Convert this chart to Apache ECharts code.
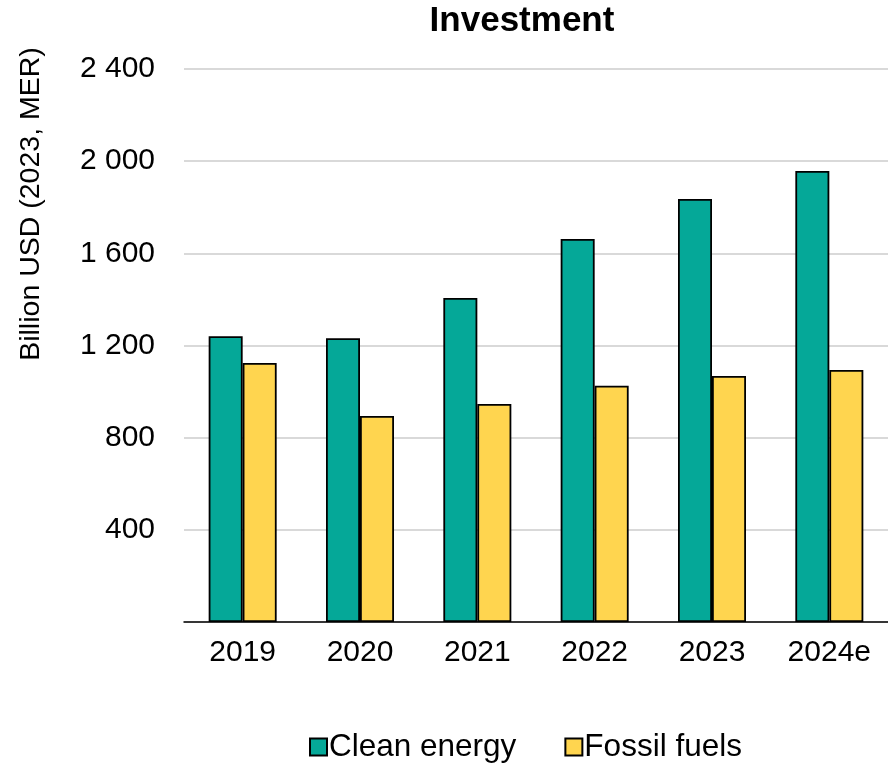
<!DOCTYPE html>
<html><head><meta charset="utf-8">
<script src="https://cdn.jsdelivr.net/npm/echarts@6/dist/echarts.min.js"></script>
<style>html,body{margin:0;padding:0;background:#fff}#c{width:888px;height:763px}</style>
</head><body><div id="c"></div>
<script>
const categories = ['2019','2020','2021','2022','2023','2024e'];
const cleanEnergy = [1240, 1232, 1406, 1662, 1836, 1957];
const fossilFuels = [1124, 894, 946, 1025, 1068, 1094];
const seriesNames = ['Clean energy','Fossil fuels'];
const yTicks = [0, 400, 800, 1200, 1600, 2000, 2400];

const font = '"Liberation Sans", Arial, sans-serif';
const chart = echarts.init(document.getElementById('c'));
chart.setOption({
  animation: false,
  textStyle: {fontFamily: font},
  grid: {left: 184, right: 0, top: 69, bottom: 141},
  graphic: [
    {type:'text', x: 522, y: 21, style:{text:'Investment', font:'bold 35px '+font, fill:'#000', textAlign:'center', textVerticalAlign:'middle'}},
    {type:'text', x: 31, y: 204, rotation: Math.PI/2, style:{text:'Billion USD (2023, MER)', font:'28.5px '+font, fill:'#000', textAlign:'center', textVerticalAlign:'middle'}}
  ],
  legend: {
    top: 726, left: 304, itemWidth: 17, itemHeight: 17, itemGap: 48,
    textStyle: {fontSize: 31.5, color: '#000', fontFamily: font, padding: [0,0,0,-3]},
    icon: 'rect',
    data: seriesNames
  },
  xAxis: {
    type: 'category', data: categories,
    axisLine: {lineStyle: {color: '#000', width: 1.5}},
    axisTick: {show: false},
    axisLabel: {fontSize: 30, color: '#000', margin: 16, fontFamily: font}
  },
  yAxis: {
    type: 'value', min: yTicks[0], max: yTicks[yTicks.length-1], interval: 400,
    axisLine: {show: false}, axisTick: {show: false},
    axisLabel: {fontSize: 30, color: '#000', margin: 29, fontFamily: font,
      formatter: v => v === 0 ? '' : String(v).replace(/\B(?=(\d{3})+(?!\d))/g, ' ')},
    splitLine: {lineStyle: {color: '#d9d9d9', width: 2}}
  },
  series: [
    {name: seriesNames[0], type: 'bar', data: cleanEnergy, barWidth: 34, barGap: '0%',
     itemStyle: {color: '#05a898', borderColor: '#000', borderWidth: 1.8}},
    {name: seriesNames[1], type: 'bar', data: fossilFuels, barWidth: 34,
     itemStyle: {color: '#ffd54f', borderColor: '#000', borderWidth: 1.8}}
  ]
});
</script></body></html>
